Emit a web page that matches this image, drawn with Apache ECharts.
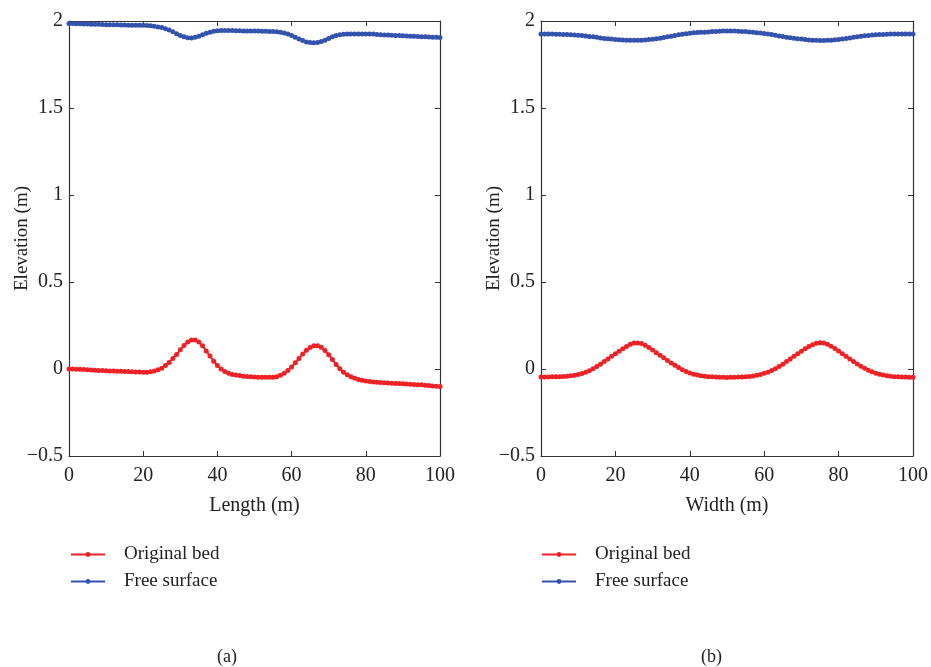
<!DOCTYPE html>
<html>
<head>
<meta charset="utf-8">
<script src="https://cdn.jsdelivr.net/npm/echarts@6/dist/echarts.min.js"></script>
<style>
  html, body { margin: 0; padding: 0; background: #fff; }
  #chart { width: 931px; height: 667px; }
</style>
</head>
<body>
<div id="chart"></div>
<script>
// station spacing along the profile (m)
const STEP = 1

// (a) longitudinal profile
const bedA = [
  0.000, 0.000, -0.002, -0.002, -0.003, -0.004, -0.006, -0.007, -0.008, -0.008,
  -0.010, -0.011, -0.012, -0.013, -0.013, -0.014, -0.015, -0.016, -0.017, -0.017,
  -0.018, -0.018, -0.016, -0.012, -0.005, 0.005, 0.020, 0.038, 0.060, 0.084,
  0.110, 0.135, 0.155, 0.166, 0.166, 0.155, 0.133, 0.104, 0.074, 0.045,
  0.020, 0.000, -0.015, -0.025, -0.031, -0.035, -0.038, -0.041, -0.043, -0.045,
  -0.046, -0.047, -0.048, -0.048, -0.048, -0.047, -0.044, -0.036, -0.024, -0.008,
  0.012, 0.036, 0.061, 0.086, 0.108, 0.124, 0.133, 0.134, 0.125, 0.107,
  0.082, 0.054, 0.026, 0.002, -0.018, -0.033, -0.044, -0.053, -0.060, -0.065,
  -0.069, -0.072, -0.074, -0.076, -0.078, -0.079, -0.080, -0.082, -0.083, -0.084,
  -0.085, -0.086, -0.087, -0.089, -0.090, -0.091, -0.093, -0.095, -0.097, -0.099,
  -0.101
]
const surfA = [
  1.985, 1.985, 1.984, 1.984, 1.983, 1.983, 1.982, 1.981, 1.981, 1.980,
  1.979, 1.979, 1.978, 1.978, 1.977, 1.977, 1.976, 1.976, 1.975, 1.975,
  1.975, 1.974, 1.973, 1.970, 1.966, 1.962, 1.956, 1.948, 1.938, 1.927,
  1.917, 1.909, 1.904, 1.903, 1.906, 1.913, 1.921, 1.929, 1.936, 1.941,
  1.944, 1.946, 1.946, 1.945, 1.945, 1.944, 1.944, 1.943, 1.943, 1.942,
  1.942, 1.942, 1.941, 1.941, 1.940, 1.940, 1.938, 1.935, 1.931, 1.925,
  1.917, 1.907, 1.897, 1.888, 1.880, 1.876, 1.875, 1.877, 1.882, 1.890,
  1.900, 1.910, 1.917, 1.921, 1.924, 1.925, 1.926, 1.926, 1.926, 1.926,
  1.926, 1.926, 1.925, 1.922, 1.921, 1.920, 1.919, 1.918, 1.917, 1.916,
  1.915, 1.914, 1.913, 1.912, 1.911, 1.910, 1.909, 1.908, 1.907, 1.906,
  1.905
]

// (b) transverse profile
const bedB = [
  -0.046, -0.046, -0.046, -0.045, -0.045, -0.044, -0.043, -0.041, -0.039, -0.036,
  -0.032, -0.026, -0.019, -0.010, 0.001, 0.014, 0.028, 0.043, 0.058, 0.073,
  0.088, 0.102, 0.116, 0.130, 0.142, 0.149, 0.150, 0.146, 0.137, 0.124,
  0.109, 0.094, 0.079, 0.064, 0.049, 0.035, 0.021, 0.008, -0.004, -0.014,
  -0.023, -0.030, -0.035, -0.039, -0.042, -0.044, -0.045, -0.046, -0.047, -0.048,
  -0.049, -0.048, -0.047, -0.046, -0.046, -0.045, -0.043, -0.040, -0.036, -0.031,
  -0.025, -0.018, -0.009, 0.002, 0.014, 0.028, 0.043, 0.058, 0.073, 0.088,
  0.102, 0.116, 0.129, 0.140, 0.148, 0.151, 0.149, 0.142, 0.131, 0.118,
  0.103, 0.088, 0.073, 0.058, 0.043, 0.029, 0.016, 0.004, -0.007, -0.016,
  -0.024, -0.030, -0.035, -0.039, -0.042, -0.044, -0.045, -0.046, -0.046, -0.047,
  -0.047
]
const surfB = [
  1.925, 1.925, 1.925, 1.925, 1.924, 1.924, 1.923, 1.922, 1.921, 1.920,
  1.918, 1.916, 1.914, 1.911, 1.909, 1.906, 1.903, 1.900, 1.898, 1.896,
  1.894, 1.892, 1.891, 1.890, 1.889, 1.889, 1.889, 1.890, 1.891, 1.893,
  1.895, 1.898, 1.901, 1.905, 1.909, 1.913, 1.917, 1.921, 1.924, 1.927,
  1.930, 1.932, 1.934, 1.935, 1.936, 1.937, 1.939, 1.940, 1.941, 1.942,
  1.942, 1.942, 1.942, 1.941, 1.940, 1.939, 1.937, 1.935, 1.933, 1.931,
  1.928, 1.925, 1.922, 1.918, 1.914, 1.911, 1.907, 1.904, 1.901, 1.898,
  1.896, 1.893, 1.891, 1.890, 1.889, 1.888, 1.888, 1.889, 1.890, 1.892,
  1.894, 1.897, 1.900, 1.903, 1.906, 1.909, 1.912, 1.915, 1.917, 1.919,
  1.921, 1.922, 1.923, 1.924, 1.925, 1.925, 1.925, 1.925, 1.925, 1.925,
  1.925
]

const seriesNames = ['Original bed', 'Free surface']
const xNames = ['Length (m)', 'Width (m)']
const panelLabels = ['(a)', '(b)']

const FONT = 'Liberation Serif'
const RED = '#ee2226'
const BLUE = '#3352ad'
const AXIS = '#333'

const toPoints = arr => arr.map((v, i) => [i * STEP, v])
const fmt = v => String(v).replace('-', '\u2212')

const grids = [
  { left: 69, right: 491, top: 21, bottom: 211 },
  { left: 541, right: 17, top: 21, bottom: 211 }
]

const frameLine = { show: true, onZero: false, lineStyle: { color: AXIS, width: 1.2 } }
const tick = { inside: true, length: 5, lineStyle: { color: AXIS } }

let xAxis = []
let yAxis = []
grids.forEach((g, i) => {
  // bottom axis with labels
  xAxis.push({
    type: 'value', gridIndex: i, position: 'bottom', min: 0, max: 100, interval: 20,
    name: xNames[i], nameLocation: 'middle', nameGap: 40, nameMoveOverlap: false,
    nameTextStyle: { fontFamily: FONT, fontSize: 20, color: '#222' },
    axisLine: frameLine, axisTick: tick,
    axisLabel: { fontFamily: FONT, fontSize: 20, color: '#222', margin: 10 },
    splitLine: { show: false }
  })
  // top frame
  xAxis.push({
    type: 'value', gridIndex: i, position: 'top', min: 0, max: 100, interval: 20,
    axisLine: frameLine, axisTick: tick,
    axisLabel: { show: false },
    splitLine: { show: false }
  })
  yAxis.push({
    type: 'value', gridIndex: i, position: 'left', min: -0.5, max: 2, interval: 0.5,
    name: 'Elevation (m)', nameLocation: 'middle', nameGap: 37, nameMoveOverlap: false,
    nameTextStyle: { fontFamily: FONT, fontSize: 19, color: '#222' },
    axisLine: frameLine, axisTick: tick,
    axisLabel: { fontFamily: FONT, fontSize: 20, color: '#222', margin: 6, formatter: fmt },
    splitLine: { show: false }
  })
  yAxis.push({
    type: 'value', gridIndex: i, position: 'right', min: -0.5, max: 2, interval: 0.5,
    axisLine: frameLine, axisTick: tick,
    axisLabel: { show: false },
    splitLine: { show: false }
  })
})

function makeSeries(name, data, color, gi) {
  return {
    name: name, type: 'line', xAxisIndex: gi * 2, yAxisIndex: gi * 2,
    data: toPoints(data), symbol: 'circle', symbolSize: 5, showSymbol: true,
    itemStyle: { color: color }, lineStyle: { color: color, width: 2 },
    animation: false
  }
}

const series = [
  makeSeries(seriesNames[0], bedA, RED, 0),
  makeSeries(seriesNames[1], surfA, BLUE, 0),
  makeSeries(seriesNames[0], bedB, RED, 1),
  makeSeries(seriesNames[1], surfB, BLUE, 1)
]

const legendBase = {
  orient: 'vertical', top: 540, itemWidth: 34, itemHeight: 6, itemGap: 8,
  textStyle: { fontFamily: FONT, fontSize: 19, color: '#222', padding: [0, 0, 0, 14], lineHeight: 18 },
  data: seriesNames
}

const option = {
  backgroundColor: '#fff',
  animation: false,
  grid: grids,
  xAxis: xAxis,
  yAxis: yAxis,
  legend: [
    Object.assign({}, legendBase, { left: 65 }),
    Object.assign({}, legendBase, { left: 536 })
  ],
  title: [
    { text: panelLabels[0], left: 212, top: 643, textStyle: { fontFamily: FONT, fontSize: 18, fontWeight: 'normal', color: '#222' } },
    { text: panelLabels[1], left: 696, top: 643, textStyle: { fontFamily: FONT, fontSize: 18, fontWeight: 'normal', color: '#222' } }
  ],
  series: series
}

var myChart = echarts.init(document.getElementById('chart'))
myChart.setOption(option)
</script>
</body>
</html>
